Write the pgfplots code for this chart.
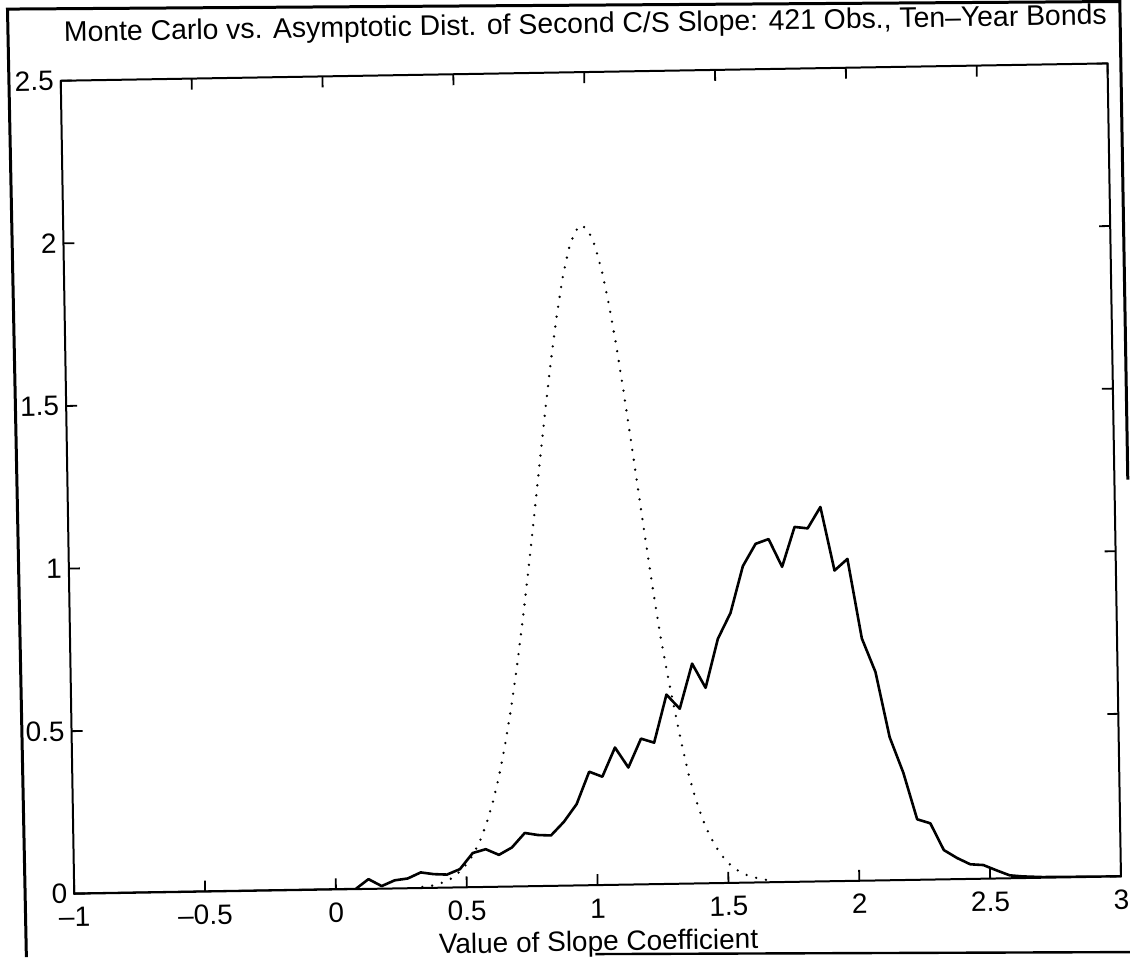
\documentclass[border=0pt]{standalone}
\usepackage{fontspec}
\setmainfont{Liberation Sans}
\usepackage{pgfplots}
\pgfplotsset{compat=1.18}
\begin{document}
\begin{tikzpicture}
\path (0pt,0pt) rectangle (565.5pt,479pt);
% scanned page frame
\draw[line width=1.5pt] (13.2pt,0pt) -- (3.75pt,474.5pt) -- (560.5pt,478.3pt) -- (564.5pt,239pt);
\draw[line width=1.2pt] (298pt,1.5pt) -- (565.5pt,2.5pt);
\begin{scope}[transform canvas={rotate around={0.95:(295.75pt,239.5pt)}}]
\begin{axis}[
  at={(33.75pt,36pt)}, anchor=south west,
  width=524pt, height=407pt, scale only axis,
  xmin=-1, xmax=3, ymin=0, ymax=2.5,
  xtick={-1,-0.5,0,0.5,1,1.5,2,2.5,3},
  xticklabels={–1,–0.5,0,0.5,1,1.5,2,2.5,3},
  ytick={0,0.5,1,1.5,2,2.5},
  yticklabels={0,0.5,1,1.5,2,2.5},
  tick align=inside, tick pos=both,
  major tick length=5.5pt,
  every tick/.style={black, line width=0.9pt},
  axis line style={line width=1pt},
  tick label style={font=\fontsize{14pt}{16pt}\selectfont},
  xticklabel style={anchor=base, yshift=-16.5pt, inner sep=0pt},
  /pgf/number format/assume math mode=true,
  title={Monte Carlo vs. Asymptotic Dist. of Second C/S Slope: 421 Obs., Ten–Year Bonds},
  title style={at={(axis description cs:0.5,1)}, anchor=base, yshift=13.5pt, xshift=1pt, font=\fontsize{14.2pt}{16pt}\selectfont},
  xlabel={Value of Slope Coefficient},
  xlabel style={at={(axis description cs:0.5,0)}, anchor=base, yshift=-33pt, inner sep=0pt, font=\fontsize{14pt}{16pt}\selectfont},
]
% asymptotic distribution (dotted)
\addplot[black, line width=1.3pt, line cap=round, dash pattern=on 0pt off 5pt] coordinates {
(0.33,0.003) (0.38,0.008) (0.43,0.022) (0.455,0.035) (0.48,0.053) (0.505,0.075) (0.53,0.105) (0.555,0.145)
(0.58,0.196) (0.605,0.260) (0.63,0.339) (0.655,0.434) (0.68,0.545) (0.705,0.673) (0.73,0.815)
(0.755,0.969) (0.78,1.132) (0.805,1.298) (0.83,1.461) (0.855,1.616) (0.88,1.754) (0.905,1.870)
(0.93,1.957) (0.955,2.011) (0.98,2.03) (1.005,2.014) (1.03,1.966) (1.055,1.888) (1.08,1.784)
(1.105,1.660) (1.13,1.519) (1.155,1.368) (1.18,1.212) (1.205,1.057) (1.23,0.907) (1.255,0.766)
(1.28,0.645) (1.305,0.535) (1.33,0.430) (1.355,0.335) (1.38,0.260) (1.405,0.198) (1.43,0.149)
(1.455,0.111) (1.48,0.081) (1.505,0.058) (1.53,0.041) (1.555,0.029) (1.58,0.020) (1.63,0.009) (1.68,0.004)
};
% Monte Carlo distribution (solid)
\addplot[black, line width=1.3pt, line join=round] coordinates {
(-1,0) (-0.5,0) (0,0) (0.075,0.0) (0.125,0.03) (0.175,0.008) (0.225,0.025) (0.275,0.03)
(0.325,0.048) (0.375,0.042) (0.425,0.04) (0.475,0.056) (0.525,0.105) (0.575,0.116)
(0.625,0.098) (0.675,0.12) (0.725,0.164) (0.775,0.157) (0.825,0.155) (0.875,0.196)
(0.925,0.25) (0.975,0.349) (1.025,0.333) (1.075,0.422) (1.125,0.360) (1.175,0.448)
(1.225,0.435) (1.275,0.582) (1.325,0.538) (1.375,0.676) (1.425,0.601) (1.475,0.751)
(1.525,0.830) (1.575,0.973) (1.625,1.041) (1.675,1.055) (1.725,0.969) (1.775,1.091)
(1.825,1.086) (1.875,1.151) (1.925,0.955) (1.975,0.99) (2.025,0.745) (2.075,0.641)
(2.125,0.44) (2.175,0.33) (2.225,0.186) (2.275,0.173) (2.325,0.09) (2.375,0.065)
(2.425,0.045) (2.475,0.042) (2.525,0.025) (2.575,0.009) (2.625,0.005) (2.7,0.002) (3,0)
};
\end{axis}
\end{scope}
\end{tikzpicture}
\end{document}
